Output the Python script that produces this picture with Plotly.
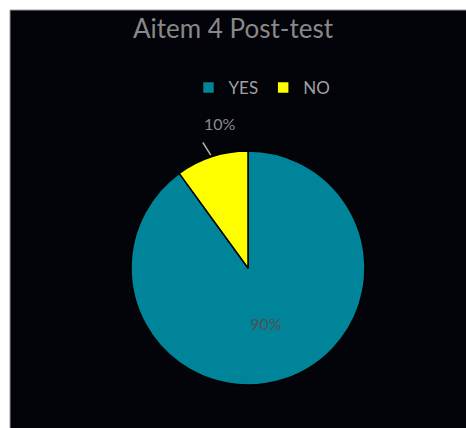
import math
import plotly.graph_objects as go

labels = ["YES", "NO"]
values = [90, 10]
colors = ["#00849A", "#FFFF00"]
title_text = "Aitem 4 Post-test"

W, H = 466, 428
ML, MT = 10, 10
PW, PH = W - ML, H - MT

def px_x(x):
    return (x - ML) / PW

def px_y(y):
    return 1 - (y - MT) / PH

# pie box in pixels
CX, CY, R = 248, 268, 117

fig = go.Figure(go.Pie(
    labels=labels,
    values=values,
    sort=False,
    direction="clockwise",
    rotation=0,
    marker=dict(colors=colors, line=dict(color="#000000", width=1.5)),
    texttemplate="%{percent:.0%}",
    textposition=["inside", "none"],
    insidetextorientation="horizontal",
    insidetextfont=dict(color="#505050", size=16, family="Lato"),
    domain=dict(x=[px_x(CX - R), px_x(CX + R)], y=[px_y(CY + R), px_y(CY - R)]),
    hoverinfo="skip",
))

# outside label with leader line for the small slice, placed from its angle
total = sum(values)
mid = 360 * (values[0] + values[1] / 2) / total
ex = CX + R * math.sin(math.radians(mid))
ey = CY - R * math.cos(math.radians(mid))
pct = f"{round(100 * values[1] / total)}%"

fig.update_layout(
    width=W, height=H,
    margin=dict(l=ML, r=0, t=MT, b=0),
    paper_bgcolor="white",
    showlegend=True,
    title=dict(text=title_text, x=0.5, xref="container", xanchor="center",
               y=1 - 29 / H, yref="container", yanchor="middle",
               font=dict(family="Lato", size=26, color="#888888")),
    legend=dict(orientation="h", x=px_x(262), xanchor="center",
                y=px_y(88), yanchor="middle",
                font=dict(family="Lato", size=17, color="#a0a0a0"),
                bgcolor="rgba(0,0,0,0)"),
    shapes=[dict(type="rect", xref="paper", yref="paper", x0=0, x1=1.02, y0=-0.02, y1=1,
                 fillcolor="#03030a", line=dict(color="#9a9a9a", width=1), layer="below")],
    annotations=[
        dict(x=px_x(ex), y=px_y(ey), xref="paper", yref="paper", text=" ",
             showarrow=True, arrowhead=0, arrowwidth=1.5, arrowcolor="#b0b0b0",
             ax=-12, ay=-19, standoff=2),
        dict(x=px_x(ex), y=px_y(ey), xref="paper", yref="paper", text=pct,
             showarrow=False, xshift=8, yshift=33,
             font=dict(family="Lato", size=16, color="#8a8a8a")),
    ],
)

fig.write_html("out.html", config={"displayModeBar": False},
               post_script="document.body.style.margin='0';")
